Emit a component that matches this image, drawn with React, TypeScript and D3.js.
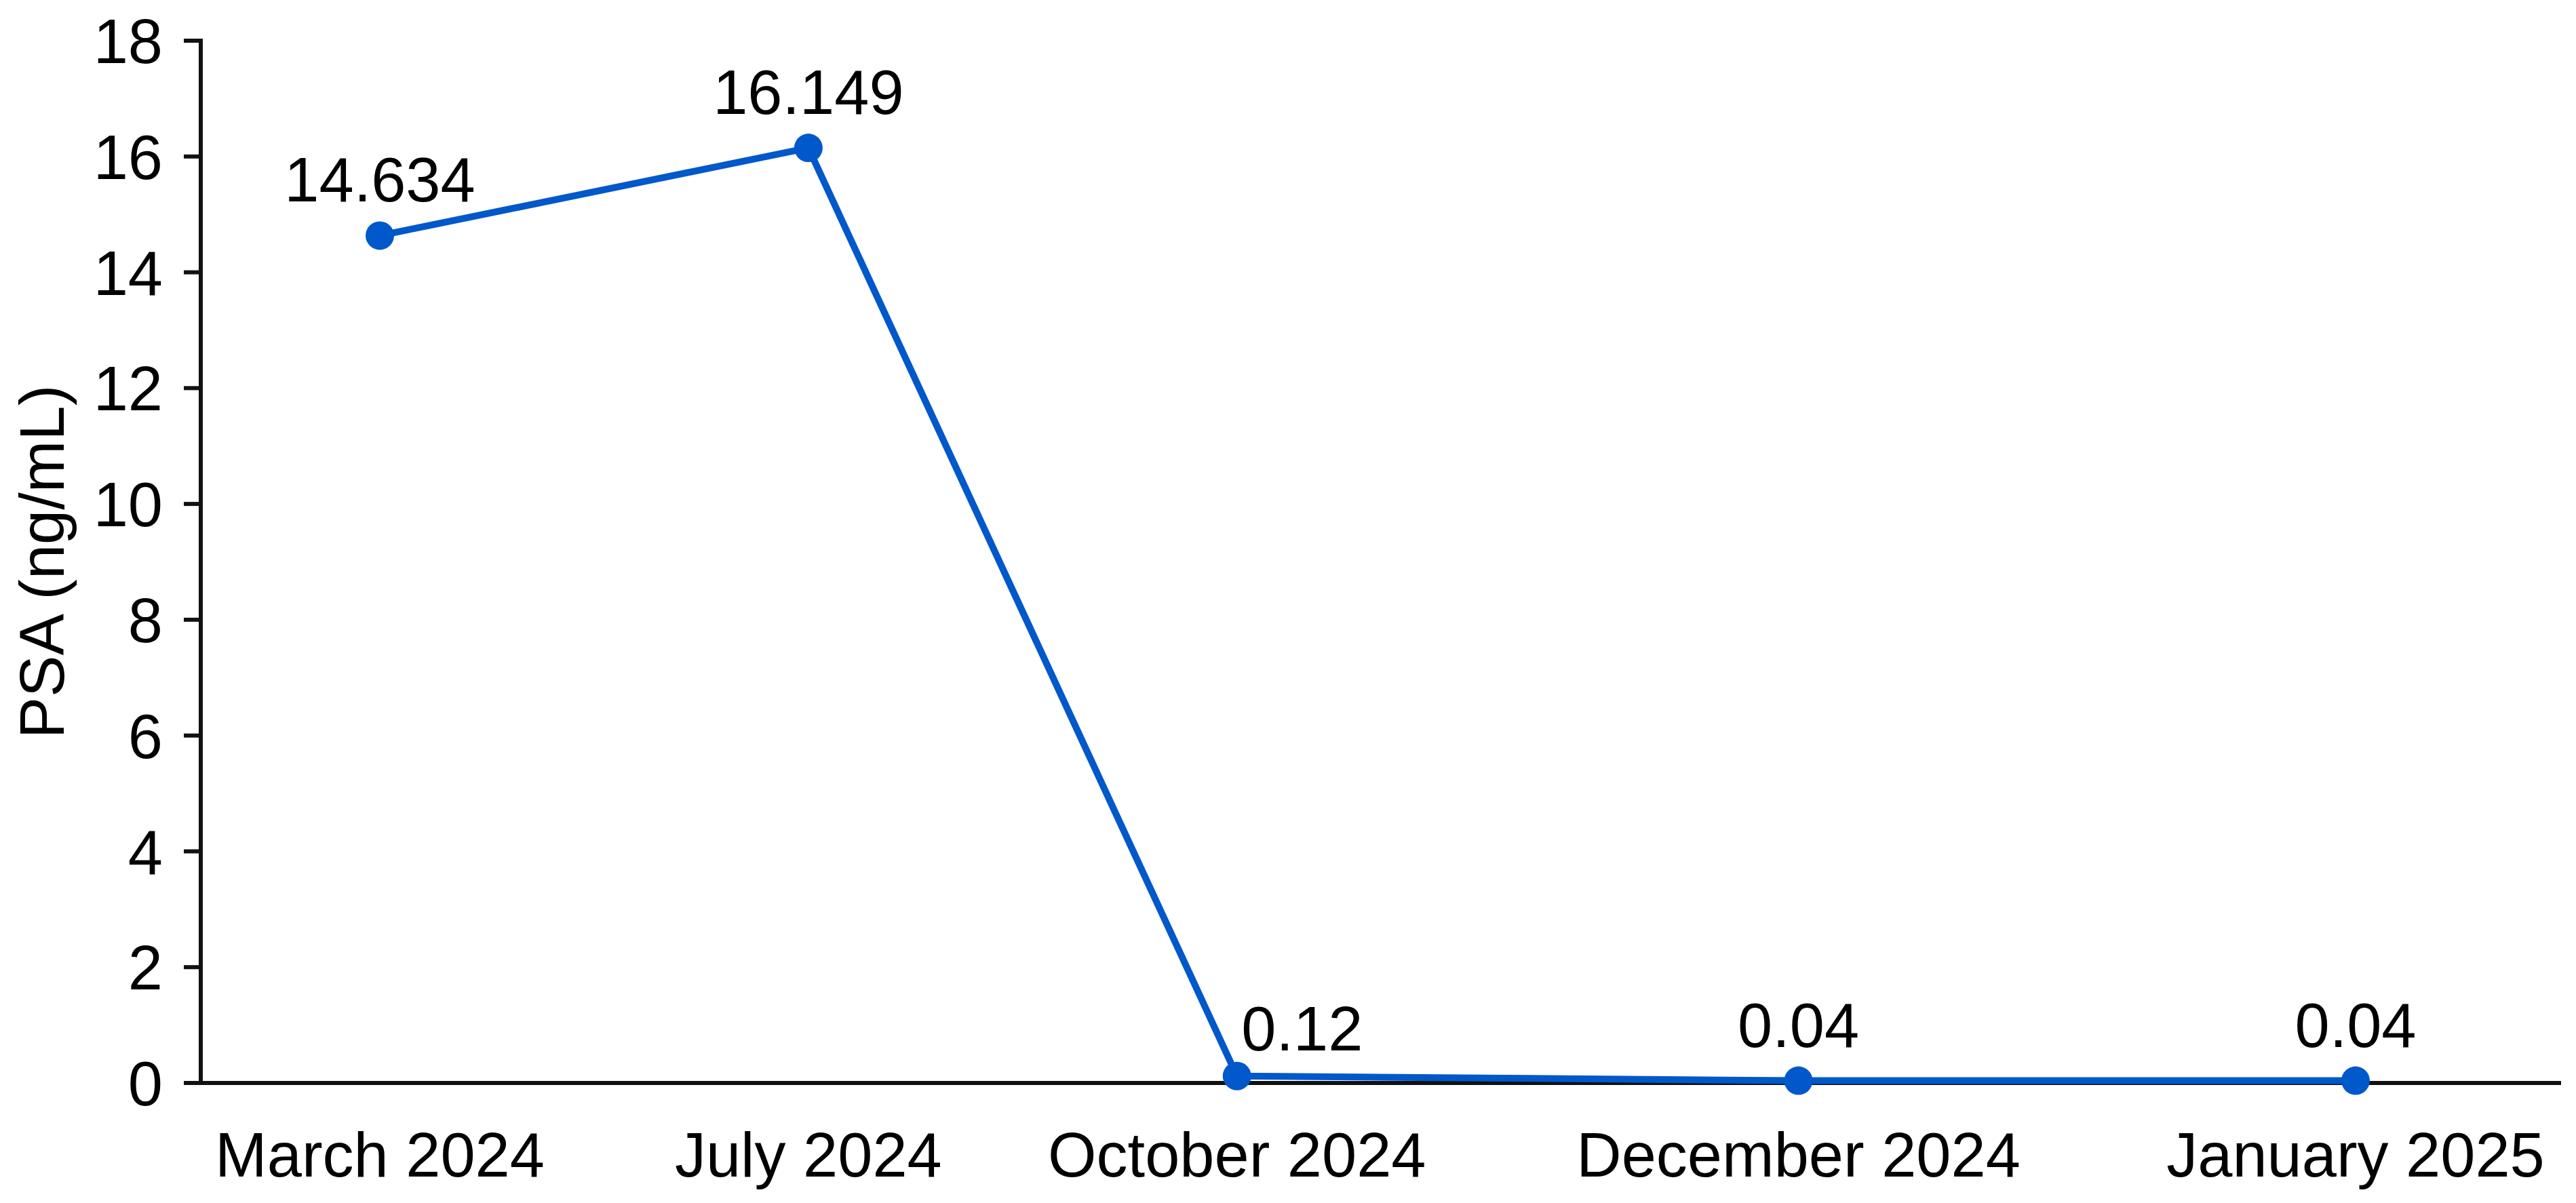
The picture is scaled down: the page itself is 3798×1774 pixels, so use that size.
import React, { useEffect } from "react";
import * as d3 from "d3";

// ---- data ----
const categories = ["March 2024", "July 2024", "October 2024", "December 2024", "January 2025"];
const psaValues = [14.634, 16.149, 0.12, 0.04, 0.04];
const valueLabels = ["14.634", "16.149", "0.12", "0.04", "0.04"];
const yTickValues = [0, 2, 4, 6, 8, 10, 12, 14, 16, 18];
const yAxisTitle = "PSA (ng/mL)";

// ---- layout ----
const W = 3798;
const H = 1774;
const AXIS_X = 296;
const Y_TOP = 60;
const Y_BOTTOM = 1597;
const FIRST_X = 560;
const LAST_X = 3473;
const X_AXIS_LEFT = 271;
const X_AXIS_RIGHT = 3776;
const SLOT_GAPS = [1, 1, 1.31, 1.3]; // relative spacing between successive categories
const LABEL_SHIFT = [[0, 0], [0, 0], [96, 12], [0, 0], [0, 0]];
const BLUE = "#0058CA";
const INK = "#111111";
const FONT = "'Liberation Sans', Arial, Helvetica, sans-serif";
const FS = 92;

export default function App() {
  useEffect(() => {
    document.body.style.margin = "0";
  }, []);

  const slots: number[] = [0];
  SLOT_GAPS.forEach((g, i) => slots.push(slots[i] + g));
  const x = d3.scaleLinear().domain([0, slots[slots.length - 1]]).range([FIRST_X, LAST_X]);
  const y = d3.scaleLinear().domain([0, 18]).range([Y_BOTTOM, Y_TOP]);

  const pts = psaValues.map((v, i) => [x(slots[i]), y(v)] as [number, number]);
  const linePath = d3.line()(pts) || "";

  return (
    <svg
      width={W}
      height={H}
      viewBox={`0 0 ${W} ${H}`}
      style={{ position: "absolute", left: 0, top: 0, background: "#fff" }}
      fontFamily={FONT}
    >
      <rect x={0} y={0} width={W} height={H} fill="#ffffff" />
      {/* y axis */}
      <line x1={AXIS_X} x2={AXIS_X} y1={Y_TOP - 3} y2={Y_BOTTOM} stroke={INK} strokeWidth={6} />
      {yTickValues.map((t) => (
        <g key={t}>
          <line x1={X_AXIS_LEFT} x2={AXIS_X} y1={y(t)} y2={y(t)} stroke={INK} strokeWidth={6} />
          <text
            x={X_AXIS_LEFT - 31}
            y={y(t)}
            dy="0.36em"
            textAnchor="end"
            fontSize={FS}
            fill="#000"
          >
            {t}
          </text>
        </g>
      ))}
      {/* x axis */}
      <line x1={X_AXIS_LEFT} x2={X_AXIS_RIGHT} y1={Y_BOTTOM} y2={Y_BOTTOM} stroke={INK} strokeWidth={6} />
      {categories.map((c, i) => (
        <text key={c} x={x(slots[i])} y={Y_BOTTOM + 138} textAnchor="middle" fontSize={FS} fill="#000">
          {c}
        </text>
      ))}
      {/* y title */}
      <text
        transform={`translate(94, ${(Y_TOP + Y_BOTTOM) / 2}) rotate(-90)`}
        textAnchor="middle"
        fontSize={FS}
        fill="#000"
      >
        {yAxisTitle}
      </text>
      {/* series */}
      <path d={linePath} fill="none" stroke={BLUE} strokeWidth={10} strokeLinejoin="round" />
      {pts.map(([px, py], i) => (
        <circle key={i} cx={px} cy={py} r={21} fill={BLUE} />
      ))}
      {pts.map(([px, py], i) => (
        <text
          key={"l" + i}
          x={px + LABEL_SHIFT[i][0]}
          y={py - 50 + LABEL_SHIFT[i][1]}
          textAnchor="middle"
          fontSize={FS}
          fill="#000"
        >
          {valueLabels[i]}
        </text>
      ))}
    </svg>
  );
}
